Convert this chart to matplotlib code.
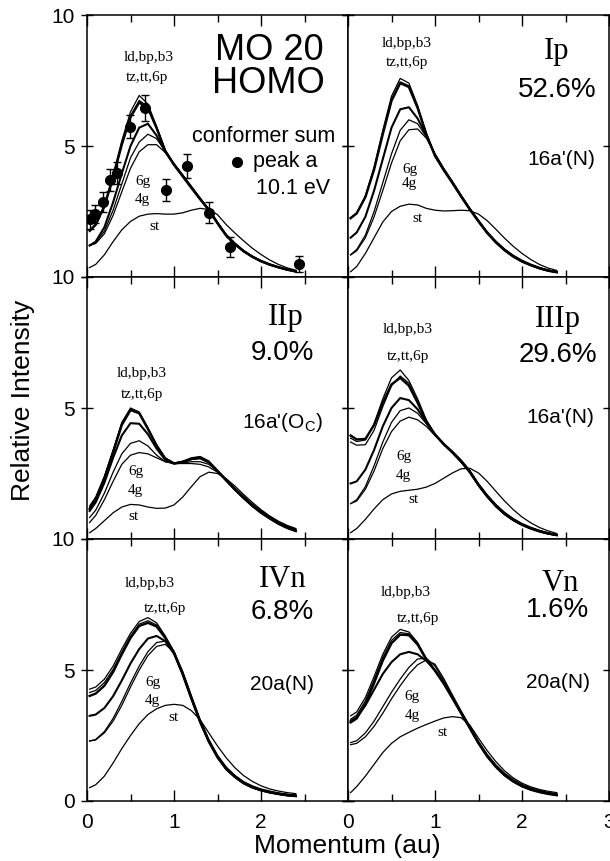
import matplotlib
matplotlib.use("Agg")
import matplotlib.pyplot as plt

plt.rcParams['font.family'] = ['Liberation Sans', 'DejaVu Sans']
plt.rcParams['mathtext.fontset'] = 'custom'
plt.rcParams['mathtext.rm'] = 'Liberation Sans'

# momentum grid (au)
mom = [0.03, 0.1, 0.2, 0.3, 0.4, 0.5, 0.6, 0.7, 0.8, 0.9, 1.0, 1.1, 1.2,
       1.3, 1.4, 1.5, 1.6, 1.7, 1.8, 1.9, 2.0, 2.1, 2.2, 2.3, 2.4]

# MO 20 HOMO, conformer sum
homo_a = [1.75, 2.00, 2.75, 3.90, 5.20, 6.30, 6.93, 6.60, 5.75, 4.85, 4.32, 3.87, 3.43, 2.99, 2.56, 2.05, 1.58, 1.25, 0.98, 0.77, 0.60, 0.47, 0.37, 0.28, 0.21]
homo_b = [1.73, 1.97, 2.68, 3.80, 5.08, 6.15, 6.74, 6.50, 5.70, 4.82, 4.30, 3.85, 3.41, 2.97, 2.55, 2.04, 1.57, 1.24, 0.97, 0.76, 0.59, 0.46, 0.36, 0.27, 0.20]
homo_c = [1.78, 2.00, 2.70, 3.80, 5.05, 6.10, 6.66, 6.45, 5.68, 4.80, 4.28, 3.84, 3.40, 2.97, 2.56, 2.05, 1.58, 1.25, 0.98, 0.77, 0.60, 0.47, 0.37, 0.28, 0.21]
homo_d = [1.20, 1.35, 1.90, 2.85, 3.95, 5.00, 5.70, 5.85, 5.40, 4.78, 4.30, 3.86, 3.42, 2.98, 2.56, 2.06, 1.59, 1.26, 0.99, 0.78, 0.61, 0.48, 0.37, 0.28, 0.21]
homo_6g = [1.22, 1.32, 1.75, 2.55, 3.55, 4.55, 5.15, 5.45, 5.28, 4.80, 4.33, 3.89, 3.45, 3.00, 2.58, 2.08, 1.61, 1.28, 1.00, 0.79, 0.62, 0.49, 0.38, 0.29, 0.22]
homo_4g = [1.20, 1.28, 1.65, 2.35, 3.25, 4.15, 4.78, 5.05, 5.05, 4.75, 4.32, 3.90, 3.46, 3.02, 2.60, 2.10, 1.63, 1.30, 1.02, 0.80, 0.63, 0.50, 0.39, 0.30, 0.23]
homo_st = [0.36, 0.48, 0.85, 1.35, 1.80, 2.12, 2.32, 2.40, 2.42, 2.40, 2.40, 2.45, 2.55, 2.62, 2.58, 2.38, 2.00, 1.68, 1.38, 1.10, 0.86, 0.65, 0.48, 0.35, 0.26]

# measured peak a, 10.1 eV
exp_p = [0.03, 0.09, 0.18, 0.26, 0.34, 0.49, 0.67, 0.91, 1.15, 1.40, 1.64, 2.44]
exp_i = [2.20, 2.40, 2.85, 3.70, 3.98, 5.74, 6.44, 3.32, 4.24, 2.46, 1.16, 0.50]
exp_e = [0.35, 0.35, 0.38, 0.42, 0.42, 0.45, 0.50, 0.42, 0.45, 0.40, 0.38, 0.30]

# Ip 52.6%
ip_a = [2.25, 2.45, 3.10, 4.20, 5.60, 6.90, 7.58, 7.40, 6.55, 5.50, 4.65, 4.10, 3.60, 3.08, 2.58, 2.12, 1.68, 1.32, 1.02, 0.78, 0.59, 0.45, 0.33, 0.24, 0.18]
ip_b = [2.22, 2.42, 3.05, 4.12, 5.50, 6.78, 7.45, 7.30, 6.48, 5.46, 4.62, 4.08, 3.58, 3.06, 2.57, 2.11, 1.67, 1.31, 1.01, 0.77, 0.58, 0.44, 0.32, 0.23, 0.17]
ip_c = [2.25, 2.43, 3.05, 4.10, 5.45, 6.72, 7.40, 7.25, 6.45, 5.45, 4.62, 4.08, 3.59, 3.07, 2.58, 2.12, 1.68, 1.32, 1.02, 0.78, 0.59, 0.45, 0.33, 0.24, 0.18]
ip_d = [1.50, 1.70, 2.30, 3.30, 4.50, 5.70, 6.40, 6.48, 6.05, 5.40, 4.66, 4.10, 3.61, 3.09, 2.59, 2.13, 1.69, 1.33, 1.03, 0.79, 0.60, 0.46, 0.34, 0.25, 0.19]
ip_6g = [0.85, 1.05, 1.60, 2.50, 3.60, 4.70, 5.60, 6.00, 5.85, 5.35, 4.70, 4.14, 3.63, 3.11, 2.61, 2.15, 1.71, 1.35, 1.05, 0.81, 0.62, 0.47, 0.35, 0.26, 0.20]
ip_4g = [0.84, 1.00, 1.50, 2.30, 3.30, 4.35, 5.20, 5.62, 5.65, 5.30, 4.70, 4.15, 3.65, 3.13, 2.63, 2.17, 1.73, 1.37, 1.07, 0.83, 0.64, 0.49, 0.37, 0.27, 0.21]
ip_st = [0.20, 0.40, 0.90, 1.50, 2.10, 2.50, 2.70, 2.78, 2.75, 2.62, 2.55, 2.52, 2.53, 2.55, 2.53, 2.40, 2.15, 1.82, 1.48, 1.17, 0.90, 0.67, 0.48, 0.34, 0.25]

# IIp 9.0%
iip_a = [1.26, 1.60, 2.40, 3.40, 4.45, 5.00, 4.85, 4.25, 3.60, 3.10, 2.90, 2.95, 3.08, 3.12, 2.95, 2.60, 2.25, 1.90, 1.58, 1.28, 1.02, 0.80, 0.60, 0.44, 0.32]
iip_b = [1.20, 1.55, 2.35, 3.35, 4.40, 4.96, 4.82, 4.22, 3.58, 3.08, 2.90, 2.97, 3.10, 3.15, 2.98, 2.63, 2.28, 1.93, 1.61, 1.31, 1.05, 0.83, 0.63, 0.47, 0.35]
iip_c = [1.15, 1.50, 2.30, 3.30, 4.35, 4.92, 4.80, 4.20, 3.56, 3.06, 2.88, 2.93, 3.05, 3.10, 2.94, 2.59, 2.24, 1.89, 1.57, 1.27, 1.01, 0.79, 0.59, 0.43, 0.31]
iip_d = [1.07, 1.40, 2.15, 3.10, 3.95, 4.42, 4.40, 4.00, 3.45, 3.02, 2.88, 2.95, 3.05, 3.08, 2.92, 2.58, 2.23, 1.88, 1.56, 1.26, 1.00, 0.78, 0.58, 0.42, 0.30]
iip_6g = [0.82, 1.10, 1.75, 2.55, 3.25, 3.65, 3.75, 3.55, 3.20, 2.95, 2.88, 2.90, 2.95, 2.95, 2.85, 2.60, 2.28, 1.94, 1.62, 1.32, 1.06, 0.84, 0.64, 0.48, 0.36]
iip_4g = [0.63, 0.90, 1.50, 2.20, 2.85, 3.20, 3.30, 3.25, 3.10, 2.95, 2.88, 2.88, 2.88, 2.85, 2.75, 2.55, 2.26, 1.93, 1.62, 1.33, 1.07, 0.85, 0.66, 0.50, 0.38]
iip_st = [0.24, 0.40, 0.70, 1.00, 1.22, 1.32, 1.30, 1.22, 1.17, 1.18, 1.30, 1.60, 2.00, 2.38, 2.55, 2.50, 2.30, 2.02, 1.70, 1.40, 1.12, 0.88, 0.68, 0.52, 0.40]

# IIIp 29.6%
iiip_a = [3.85, 3.72, 3.78, 4.40, 5.35, 6.15, 6.45, 6.05, 5.35, 4.55, 4.00, 3.62, 3.30, 2.95, 2.55, 2.05, 1.62, 1.25, 0.95, 0.72, 0.54, 0.40, 0.29, 0.20, 0.14]
iiip_b = [3.70, 3.58, 3.60, 4.15, 5.05, 5.85, 6.22, 5.95, 5.25, 4.50, 3.98, 3.60, 3.28, 2.93, 2.53, 2.03, 1.60, 1.23, 0.93, 0.70, 0.52, 0.38, 0.27, 0.19, 0.13]
iiip_c = [3.95, 3.80, 3.82, 4.35, 5.20, 5.90, 6.15, 5.85, 5.20, 4.48, 3.98, 3.62, 3.31, 2.96, 2.56, 2.06, 1.63, 1.26, 0.96, 0.73, 0.55, 0.41, 0.30, 0.21, 0.15]
iiip_d = [2.12, 2.20, 2.65, 3.40, 4.30, 5.00, 5.38, 5.30, 4.95, 4.45, 4.00, 3.63, 3.31, 2.96, 2.56, 2.06, 1.63, 1.26, 0.96, 0.73, 0.55, 0.41, 0.30, 0.21, 0.15]
iiip_6g = [1.35, 1.50, 2.00, 2.80, 3.70, 4.45, 4.90, 5.00, 4.80, 4.40, 3.98, 3.64, 3.33, 2.99, 2.59, 2.09, 1.66, 1.29, 0.99, 0.76, 0.57, 0.43, 0.32, 0.23, 0.16]
iiip_4g = [1.35, 1.45, 1.90, 2.60, 3.45, 4.10, 4.50, 4.65, 4.55, 4.30, 3.95, 3.64, 3.35, 3.02, 2.62, 2.12, 1.69, 1.32, 1.02, 0.78, 0.59, 0.45, 0.33, 0.24, 0.17]
iiip_st = [0.24, 0.40, 0.75, 1.15, 1.50, 1.72, 1.82, 1.86, 1.90, 1.98, 2.12, 2.32, 2.52, 2.68, 2.70, 2.52, 2.20, 1.82, 1.45, 1.12, 0.84, 0.62, 0.44, 0.31, 0.21]

# IVn 6.8%
ivn_a = [4.27, 4.35, 4.65, 5.15, 5.80, 6.40, 6.85, 7.00, 6.80, 6.30, 5.70, 4.85, 3.90, 3.00, 2.25, 1.65, 1.20, 0.90, 0.66, 0.50, 0.39, 0.31, 0.25, 0.20, 0.17]
ivn_b = [4.14, 4.22, 4.52, 5.02, 5.68, 6.30, 6.75, 6.88, 6.72, 6.25, 5.68, 4.84, 3.90, 3.01, 2.26, 1.66, 1.21, 0.91, 0.67, 0.51, 0.40, 0.32, 0.26, 0.21, 0.18]
ivn_c = [4.01, 4.10, 4.40, 4.92, 5.60, 6.22, 6.68, 6.80, 6.66, 6.22, 5.66, 4.83, 3.91, 3.02, 2.27, 1.67, 1.22, 0.92, 0.68, 0.52, 0.41, 0.33, 0.27, 0.22, 0.19]
ivn_d = [3.25, 3.30, 3.55, 4.00, 4.60, 5.25, 5.80, 6.20, 6.30, 6.10, 5.62, 4.85, 3.92, 3.03, 2.28, 1.68, 1.23, 0.93, 0.69, 0.53, 0.42, 0.34, 0.28, 0.23, 0.20]
ivn_6g = [2.29, 2.35, 2.65, 3.15, 3.80, 4.50, 5.15, 5.70, 6.05, 6.10, 5.72, 4.92, 3.98, 3.08, 2.32, 1.72, 1.27, 0.96, 0.72, 0.56, 0.44, 0.36, 0.30, 0.25, 0.22]
ivn_4g = [2.29, 2.33, 2.60, 3.05, 3.65, 4.35, 5.00, 5.55, 5.90, 5.98, 5.68, 4.95, 4.02, 3.12, 2.36, 1.75, 1.30, 0.98, 0.74, 0.58, 0.46, 0.38, 0.31, 0.26, 0.23]
ivn_st = [0.51, 0.62, 0.95, 1.45, 2.00, 2.50, 2.95, 3.30, 3.52, 3.65, 3.69, 3.65, 3.45, 3.10, 2.60, 2.10, 1.65, 1.27, 0.97, 0.75, 0.58, 0.46, 0.38, 0.32, 0.28]

# Vn 1.6%
vn_a = [3.25, 3.40, 3.95, 4.75, 5.60, 6.25, 6.55, 6.45, 6.05, 5.45, 5.00, 4.50, 3.93, 3.35, 2.78, 2.20, 1.70, 1.30, 0.98, 0.74, 0.56, 0.43, 0.34, 0.27, 0.22]
vn_b = [3.12, 3.28, 3.82, 4.62, 5.48, 6.13, 6.43, 6.38, 6.00, 5.42, 4.98, 4.49, 3.93, 3.36, 2.79, 2.21, 1.71, 1.31, 0.99, 0.75, 0.57, 0.44, 0.35, 0.28, 0.23]
vn_c = [3.00, 3.15, 3.70, 4.50, 5.36, 6.02, 6.35, 6.33, 5.97, 5.40, 4.97, 4.48, 3.92, 3.35, 2.78, 2.20, 1.70, 1.30, 0.98, 0.74, 0.56, 0.43, 0.34, 0.27, 0.22]
vn_d = [3.05, 3.20, 3.65, 4.25, 4.85, 5.30, 5.60, 5.69, 5.60, 5.35, 5.00, 4.52, 3.95, 3.37, 2.80, 2.22, 1.72, 1.32, 1.00, 0.76, 0.58, 0.45, 0.36, 0.29, 0.24]
vn_6g = [2.23, 2.30, 2.60, 3.05, 3.60, 4.15, 4.65, 5.10, 5.42, 5.45, 5.15, 4.60, 4.00, 3.40, 2.83, 2.25, 1.75, 1.35, 1.03, 0.79, 0.61, 0.48, 0.38, 0.31, 0.26]
vn_4g = [2.15, 2.20, 2.45, 2.85, 3.35, 3.90, 4.40, 4.85, 5.20, 5.38, 5.22, 4.68, 4.05, 3.44, 2.86, 2.28, 1.78, 1.38, 1.06, 0.82, 0.63, 0.50, 0.40, 0.33, 0.28]
vn_st = [0.32, 0.55, 0.95, 1.40, 1.85, 2.20, 2.45, 2.62, 2.78, 2.92, 3.05, 3.17, 3.22, 3.18, 2.90, 2.40, 1.92, 1.50, 1.15, 0.88, 0.68, 0.54, 0.44, 0.37, 0.32]

homo = [homo_a, homo_b, homo_c, homo_d, homo_6g, homo_4g, homo_st]
ip = [ip_a, ip_b, ip_c, ip_d, ip_6g, ip_4g, ip_st]
iip = [iip_a, iip_b, iip_c, iip_d, iip_6g, iip_4g, iip_st]
iiip = [iiip_a, iiip_b, iiip_c, iiip_d, iiip_6g, iiip_4g, iiip_st]
ivn = [ivn_a, ivn_b, ivn_c, ivn_d, ivn_6g, ivn_4g, ivn_st]
vn = [vn_a, vn_b, vn_c, vn_d, vn_6g, vn_4g, vn_st]

# line widths for the 7 conformer groups
lws = [0.9, 0.9, 1.7, 1.5, 0.9, 0.9, 0.9]

W, H = 610, 861
fig = plt.figure(figsize=(W / 100, H / 100), dpi=100)

def panel(left, top, curves, row, col):
    ax = fig.add_axes([left / W, 1 - (top + 262) / H, 261 / W, 262 / H])
    for c, lw in zip(curves, lws):
        ax.plot(mom, c, color='black', lw=lw)
    ax.set_xlim(0, 3)
    ax.set_ylim(0, 10)
    ax.set_xticks([0, 1, 2, 3])
    ax.set_xticks([0.5, 1.5, 2.5], minor=True)
    ax.set_yticks([0, 5, 10])
    ax.tick_params(axis='x', which='both', direction='in', top=True, bottom=True,
                   width=1, labelsize=15, pad=9)
    ax.tick_params(axis='x', which='major', length=8)
    ax.tick_params(axis='x', which='minor', length=5)
    ax.tick_params(axis='y', direction='inout', left=True, right=True, length=8,
                   width=1, labelsize=15, pad=5)
    ax.tick_params(labelleft=(col == 0), labelbottom=(row == 2))
    if col == 0:
        ax.set_xticklabels(['0', '1', '2', ''])
        # the "0" of an upper panel sits under the "10" of the panel below
        if row < 2:
            ax.set_yticklabels(['', '5', '10'])
    for s in ax.spines.values():
        s.set_linewidth(1.1)
    return ax

serif = {'family': 'Liberation Serif', 'fontsize': 11, 'ha': 'center', 'va': 'center'}

def labels(ax, top1, top2, g6, g4, st):
    ax.text(top1[0], top1[1], 'ld,bp,b3', **serif)
    ax.text(top2[0], top2[1], 'tz,tt,6p', **serif)
    ax.text(g6[0], g6[1], '6g', **serif)
    ax.text(g4[0], g4[1], '4g', **serif)
    ax.text(st[0], st[1], 'st', **serif)

def title(ax, name, pct, orb, p1, p2, p3):
    ax.text(p1[0], p1[1], name, family='Liberation Serif', fontsize=22, ha='center', va='center')
    ax.text(p2[0], p2[1], pct, fontsize=20, ha='center', va='center')
    ax.text(p3[0], p3[1], orb, fontsize=15, ha='center', va='center')

# top left: HOMO conformer sum with measurement
ax1 = panel(87, 15, homo, 0, 0)
ax1.errorbar(exp_p, exp_i, yerr=exp_e, fmt='o', color='black', ms=7,
             capsize=3, elinewidth=1, capthick=1)
labels(ax1, (0.71, 8.36), (0.69, 7.63), (0.64, 3.63), (0.64, 2.94), (0.78, 1.91))
ax1.text(2.09, 8.63, 'MO 20', fontsize=26, ha='center', va='center')
ax1.text(2.09, 7.37, 'HOMO', fontsize=26, ha='center', va='center')
ax1.text(2.03, 5.38, 'conformer sum', fontsize=15.5, ha='center', va='center')
ax1.plot(0.575, 0.439, 'o', color='black', ms=7, transform=ax1.transAxes)
ax1.text(1.91, 4.39, 'peak a', fontsize=15.5, ha='left', va='center')
ax1.text(2.37, 3.36, '10.1 eV', fontsize=15.5, ha='center', va='center')

ax2 = panel(348, 15, ip, 0, 1)
labels(ax2, (0.68, 8.93), (0.68, 8.17), (0.71, 4.10), (0.71, 3.57), (0.80, 2.25))
title(ax2, 'Ip', '52.6%', "16a'(N)", (2.40, 8.59), (2.41, 7.14), (2.45, 4.47))

ax3 = panel(87, 277, iip, 1, 0)
labels(ax3, (0.63, 6.30), (0.63, 5.50), (0.56, 2.56), (0.56, 1.87), (0.53, 0.84))
title(ax3, 'IIp', '9.0%', r"16a'(O$_{\mathrm{C}}$)", (2.28, 8.47), (2.25, 7.10), (2.25, 4.43))

ax4 = panel(348, 277, iiip, 1, 1)
labels(ax4, (0.69, 7.98), (0.69, 6.98), (0.64, 3.13), (0.64, 2.44), (0.75, 1.49))
title(ax4, 'IIIp', '29.6%', "16a'(N)", (2.41, 8.36), (2.41, 7.02), (2.44, 4.62))

ax5 = panel(87, 539, ivn, 2, 0)
labels(ax5, (0.72, 8.32), (0.90, 7.33), (0.76, 4.54), (0.75, 3.85), (0.99, 3.17))
title(ax5, 'IVn', '6.8%', '20a(N)', (2.25, 8.44), (2.25, 7.21), (2.24, 4.43))

ax6 = panel(348, 539, vn, 2, 1)
labels(ax6, (0.66, 7.94), (0.80, 6.95), (0.74, 3.97), (0.74, 3.28), (1.09, 2.60))
title(ax6, 'Vn', '1.6%', '20a(N)', (2.44, 8.32), (2.41, 7.29), (2.41, 4.54))

fig.text(23 / W, 1 - 400 / H, 'Relative Intensity', rotation=90, fontsize=19,
         ha='center', va='center')
fig.text(347 / W, 1 - 846 / H, 'Momentum (au)', fontsize=19, ha='center', va='center')

fig.savefig('out.png', dpi=100)
